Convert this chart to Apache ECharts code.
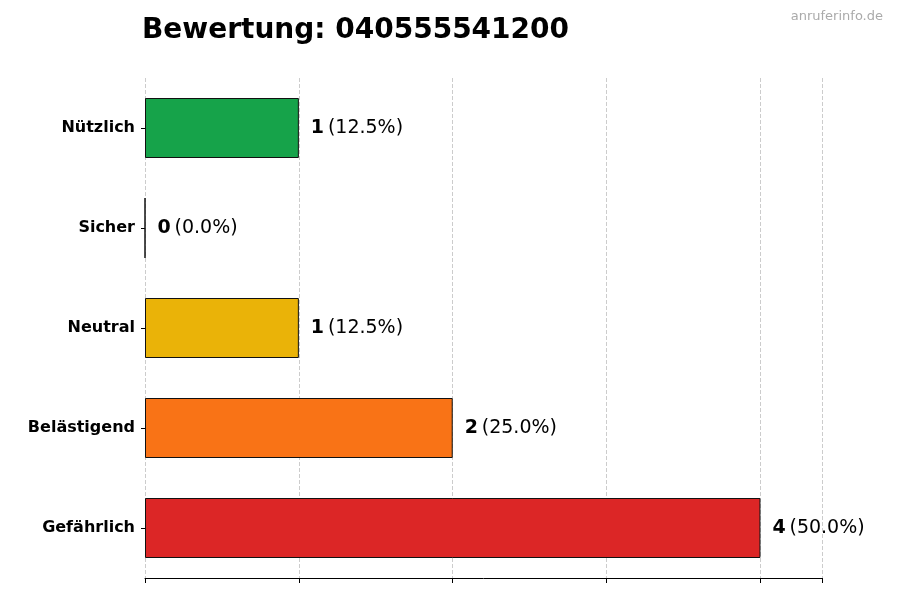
<!DOCTYPE html>
<html lang="de">
<head>
    <meta charset="UTF-8">
    <title>Bewertung</title>
    <script src="https://cdn.jsdelivr.net/npm/echarts@6/dist/echarts.min.js"></script>
</head>
<body style="margin:0">
    <div id="main" style="width: 900px;height:600px;"></div>
    <script type="text/javascript">
        // Daten (unten nach oben)
        var categories = ['Gefährlich', 'Belästigend', 'Neutral', 'Sicher', 'Nützlich'];
        var counts = [4, 2, 1, 0, 1];
        var percents = ['50.0%', '25.0%', '12.5%', '0.0%', '12.5%'];
        var colors = ['#dc2626', '#f97316', '#eab308', '#22c55e', '#16a34a'];

        var myChart = echarts.init(document.getElementById('main'));

        var option = {
            textStyle: { fontFamily: 'DejaVu Sans' },
            title: {
                text: 'Bewertung: 040555541200',
                left: 137, top: 12,
                textStyle: { fontSize: 28, fontWeight: 'bold', color: '#000', fontFamily: 'DejaVu Sans' }
            },
            graphic: [{
                type: 'text', right: 17, top: 10,
                style: { text: 'anruferinfo.de', fill: '#aaa', fontSize: 13, fontFamily: 'DejaVu Sans' }
            }],
            grid: { left: 145, right: 78, top: 78, bottom: 22 },
            xAxis: {
                type: 'value', min: 0, max: 4.4, interval: 1,
                axisLabel: { show: false },
                axisLine: { show: true, lineStyle: { color: '#000' } },
                axisTick: { show: true, length: 5, lineStyle: { color: '#000' } },
                splitLine: { show: true, lineStyle: { type: 'dashed', color: '#ccc' } }
            },
            yAxis: {
                type: 'category', data: categories,
                axisLine: { show: false },
                axisTick: { show: true, length: 4, alignWithLabel: true, lineStyle: { color: '#000' } },
                axisLabel: { fontSize: 16, fontWeight: 'bold', color: '#000', margin: 10 }
            },
            series: [{
                type: 'bar',
                barWidth: 60,
                data: counts.map(function (v, i) {
                    return { value: v, itemStyle: { color: colors[i] } };
                }),
                itemStyle: { borderColor: '#111', borderWidth: 1 },
                label: {
                    show: true, position: 'right', distance: 12,
                    formatter: function (p) {
                        return '{b|' + p.value + '} {n|(' + percents[p.dataIndex] + ')}';
                    },
                    rich: {
                        b: { fontSize: 19, fontWeight: 'bold', color: '#000' },
                        n: { fontSize: 19, color: '#000' }
                    }
                }
            }]
        };
        myChart.setOption(option);
    </script>
</body>
</html>
